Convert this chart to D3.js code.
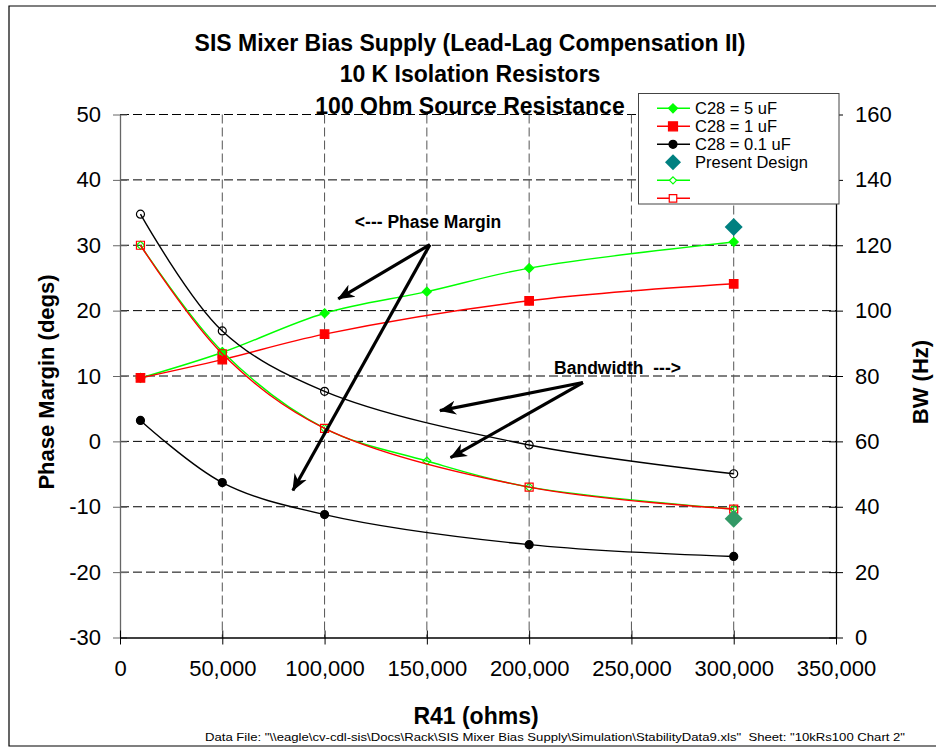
<!DOCTYPE html>
<html>
<head>
<meta charset="utf-8">
<script src="https://cdn.jsdelivr.net/npm/d3@7"></script>
<style>
  body { margin: 0; background: #fff; }
  svg { display: block; font-family: "Liberation Sans", Arial, sans-serif; }
</style>
</head>
<body>
<div id="chart"></div>
<script>
// R41 values (ohms)
const r41All = [10000, 50000, 100000, 150000, 200000, 300000];
const r41Short = [10000, 50000, 100000, 200000, 300000];

// phase margin (degs), left axis
const pm5uF = [9.7, 13.6, 19.6, 22.9, 26.5, 30.5];
const pm1uF = [9.7, 12.5, 16.4, 21.5, 24.1];
const pm01uF = [3.2, -6.3, -11.2, -15.8, -17.6];

// bandwidth (Hz), right axis
const bw5uF = [120, 87.5, 64, 54, 46, 39.3];
const bw1uF = [120, 86.8, 64, 46, 39.3];
const bw01uF = [129.5, 93.8, 75.3, 58.9, 50.1];

// present design
const presentR41 = [300000];
const presentPM = [32.8];
const presentBW = [36.3];

const pmTicks = [-30, -20, -10, 0, 10, 20, 30, 40, 50];
const bwTicks = [0, 20, 40, 60, 80, 100, 120, 140, 160];
const r41Ticks = [0, 50000, 100000, 150000, 200000, 250000, 300000, 350000];

const titleLines = ["SIS Mixer Bias Supply (Lead-Lag Compensation II)", "10 K Isolation Resistors", "100 Ohm Source Resistance"];
const footer = 'Data File: "\\\\eagle\\cv-cdl-sis\\Docs\\Rack\\SIS Mixer Bias Supply\\Simulation\\StabilityData9.xls"  Sheet: "10kRs100 Chart 2"';

// annotation arrows, in data units (ohms, degs)
const pmArrows = [
  { from: [151500, 30.1], to: [106700, 21.8] },
  { from: [151500, 30.1], to: [84500, -7.5] },
];
const bwArrows = [
  { from: [226300, 9.0], to: [156400, 4.7] },
  { from: [226300, 9.0], to: [161600, -2.5] },
];

const width = 936, height = 748;
const plot = { left: 120, right: 836, top: 114.5, bottom: 637.5 };

const svg = d3.select("#chart").append("svg")
  .attr("width", width).attr("height", height);

const x = d3.scaleLinear().domain([0, 350000]).range([plot.left, plot.right]);
const yL = d3.scaleLinear().domain([-30, 50]).range([plot.bottom, plot.top]);
const yR = d3.scaleLinear().domain([0, 160]).range([plot.bottom, plot.top]);

// outer frame (right edge is off the picture)
svg.append("path")
  .attr("d", `M${width + 5},6 H9 V746 H${width + 5}`)
  .attr("fill", "none").attr("stroke", "#000").attr("stroke-width", 1.2);

// grid
svg.append("g").selectAll("line").data(pmTicks.filter(d => d > -30)).join("line")
  .attr("x1", plot.left).attr("x2", plot.right)
  .attr("y1", d => yL(d)).attr("y2", d => yL(d))
  .attr("stroke", "#000").attr("stroke-dasharray", "9,4");
svg.append("g").selectAll("line").data(r41Ticks.slice(1, -1)).join("line")
  .attr("x1", d => x(d)).attr("x2", d => x(d))
  .attr("y1", plot.top).attr("y2", plot.bottom)
  .attr("stroke", "#555").attr("stroke-dasharray", "9,4");

// axes
function styleAxis(g, color) {
  g.select(".domain").attr("stroke", color).attr("stroke-width", 1.3);
  g.selectAll(".tick line").attr("stroke", color);
  g.selectAll(".tick text").attr("font-size", 22).attr("fill", "#000")
    .attr("font-family", "'Liberation Sans', Arial, sans-serif");
}

const plain = d => String(d);

const gL = svg.append("g").attr("transform", `translate(${plot.left},0)`)
  .call(d3.axisLeft(yL).tickValues(pmTicks).tickFormat(plain).tickSizeInner(7).tickSizeOuter(0).tickPadding(12));
gL.selectAll(".tick line").attr("x1", 7);
styleAxis(gL, "#666");

const gR = svg.append("g").attr("transform", `translate(${plot.right},0)`)
  .call(d3.axisRight(yR).tickValues(bwTicks).tickFormat(plain).tickSizeInner(7).tickSizeOuter(0).tickPadding(12));
gR.selectAll(".tick line").attr("x1", -7);
styleAxis(gR, "#000");

const gB = svg.append("g").attr("transform", `translate(0,${plot.bottom})`)
  .call(d3.axisBottom(x).tickValues(r41Ticks).tickFormat(d3.format(",")).tickSizeInner(7).tickSizeOuter(0).tickPadding(16));
gB.selectAll(".tick line").attr("y1", -7);
styleAxis(gB, "#000");

// marker shapes (size = full width in px)
function markerPath(shape, s) {
  const h = s / 2;
  if (shape === "diamond") return `M0,${-h}L${h},0L0,${h}L${-h},0Z`;
  if (shape === "square") return `M${-h},${-h}H${h}V${h}H${-h}Z`;
  return `M${-h},0A${h},${h} 0 1,0 ${h},0A${h},${h} 0 1,0 ${-h},0Z`;
}

const series = [
  { xs: r41All, ys: pm5uF, y: yL, color: "#00ff00", shape: "diamond", size: 9, fill: true },
  { xs: r41Short, ys: pm1uF, y: yL, color: "#ff0000", shape: "square", size: 8.5, fill: true },
  { xs: r41Short, ys: pm01uF, y: yL, color: "#000", shape: "circle", size: 8, fill: true },
  { xs: r41All, ys: bw5uF, y: yR, color: "#00ff00", shape: "diamond", size: 8, fill: false },
  { xs: r41Short, ys: bw1uF, y: yR, color: "#ff0000", shape: "square", size: 8, fill: false },
  { xs: r41Short, ys: bw01uF, y: yR, color: "#000", shape: "circle", size: 8, fill: false },
];

const line = d3.line().curve(d3.curveCatmullRom.alpha(0.5));

series.forEach(s => {
  const pts = s.xs.map((v, i) => [x(v), s.y(s.ys[i])]);
  svg.append("path").attr("d", line(pts))
    .attr("fill", "none").attr("stroke", s.color).attr("stroke-width", 1.4);
  svg.append("g").selectAll("path").data(pts).join("path")
    .attr("transform", d => `translate(${d[0]},${d[1]})`)
    .attr("d", markerPath(s.shape, s.size))
    .attr("fill", s.fill ? s.color : "#fff")
    .attr("fill-opacity", s.fill ? 1 : 0)
    .attr("stroke", s.color).attr("stroke-width", 1.2);
});

// present design points
svg.append("g").selectAll("path").data(presentR41).join("path")
  .attr("transform", (d, i) => `translate(${x(d)},${yL(presentPM[i])})`)
  .attr("d", markerPath("diamond", 18)).attr("fill", "#008080");
svg.append("g").selectAll("path").data(presentR41).join("path")
  .attr("transform", (d, i) => `translate(${x(d)},${yR(presentBW[i])})`)
  .attr("d", markerPath("diamond", 18)).attr("fill", "#339966");

// annotation arrows
svg.append("defs").append("marker")
  .attr("id", "stealth").attr("viewBox", "-16 -8 18 16")
  .attr("refX", 0).attr("refY", 0)
  .attr("markerWidth", 18).attr("markerHeight", 16)
  .attr("markerUnits", "userSpaceOnUse").attr("orient", "auto")
  .append("path").attr("d", "M1,0L-16,-7L-11,0L-16,7Z").attr("fill", "#000");

pmArrows.concat(bwArrows).forEach(a => {
  svg.append("line")
    .attr("x1", x(a.from[0])).attr("y1", yL(a.from[1]))
    .attr("x2", x(a.to[0])).attr("y2", yL(a.to[1]))
    .attr("stroke", "#000").attr("stroke-width", 3.2)
    .attr("marker-end", "url(#stealth)");
});

svg.append("text").attr("x", x(114800)).attr("y", yL(32.7))
  .attr("font-size", 17.5).attr("font-weight", "bold").text("<--- Phase Margin");
svg.append("text").attr("x", x(212200)).attr("y", yL(10.3))
  .attr("font-size", 17.5).attr("font-weight", "bold").attr("xml:space", "preserve")
  .text("Bandwidth  --->");

// titles
svg.append("g").selectAll("text").data(titleLines).join("text")
  .attr("x", 470).attr("y", (d, i) => 51 + i * 31.3)
  .attr("text-anchor", "middle").attr("font-size", 23).attr("font-weight", "bold")
  .text(d => d);

svg.append("text").attr("x", 476).attr("y", 724)
  .attr("text-anchor", "middle").attr("font-size", 23).attr("font-weight", "bold")
  .text("R41 (ohms)");
svg.append("text").attr("transform", "translate(54,382) rotate(-90)")
  .attr("text-anchor", "middle").attr("font-size", 22).attr("font-weight", "bold")
  .text("Phase Margin (degs)");
svg.append("text").attr("transform", "translate(928,382) rotate(-90)")
  .attr("text-anchor", "middle").attr("font-size", 22).attr("font-weight", "bold")
  .text("BW (Hz)");

svg.append("text").attr("x", 205).attr("y", 741)
  .attr("font-family", "'Liberation Sans Narrow', 'Arial Narrow', sans-serif")
  .attr("font-size", 11.5).attr("xml:space", "preserve")
  .attr("textLength", 700).attr("lengthAdjust", "spacingAndGlyphs")
  .text(footer);

// legend
const legendItems = [
  { label: "C28 = 5 uF", color: "#00ff00", shape: "diamond", size: 9, fill: true, line: true },
  { label: "C28 = 1 uF", color: "#ff0000", shape: "square", size: 9, fill: true, line: true },
  { label: "C28 = 0.1 uF", color: "#000", shape: "circle", size: 8, fill: true, line: true },
  { label: "Present Design", color: "#008080", shape: "diamond", size: 16, fill: true, line: false },
  { label: "", color: "#00ff00", shape: "diamond", size: 7, fill: false, line: true },
  { label: "", color: "#ff0000", shape: "square", size: 7.5, fill: false, line: true },
];

const lg = svg.append("g");
lg.append("rect").attr("x", 638.5).attr("y", 93.5).attr("width", 200.5).attr("height", 110.5)
  .attr("fill", "#fff").attr("stroke", "#444").attr("stroke-width", 1);
const rows = lg.selectAll("g.row").data(legendItems).join("g")
  .attr("class", "row")
  .attr("transform", (d, i) => `translate(0,${108.3 + i * 18})`);
rows.filter(d => d.line).append("line")
  .attr("x1", 657).attr("x2", 690).attr("stroke", d => d.color).attr("stroke-width", 1.4);
rows.append("path")
  .attr("transform", "translate(673,0)")
  .attr("d", d => markerPath(d.shape, d.size))
  .attr("fill", d => d.fill ? d.color : "#fff")
  .attr("stroke", d => d.fill && d.shape === "diamond" && d.size > 10 ? "none" : d.color)
  .attr("stroke-width", 1.2);
rows.append("text").attr("x", 695).attr("dy", "0.35em")
  .attr("font-size", 16.5).text(d => d.label);
</script>
</body>
</html>
